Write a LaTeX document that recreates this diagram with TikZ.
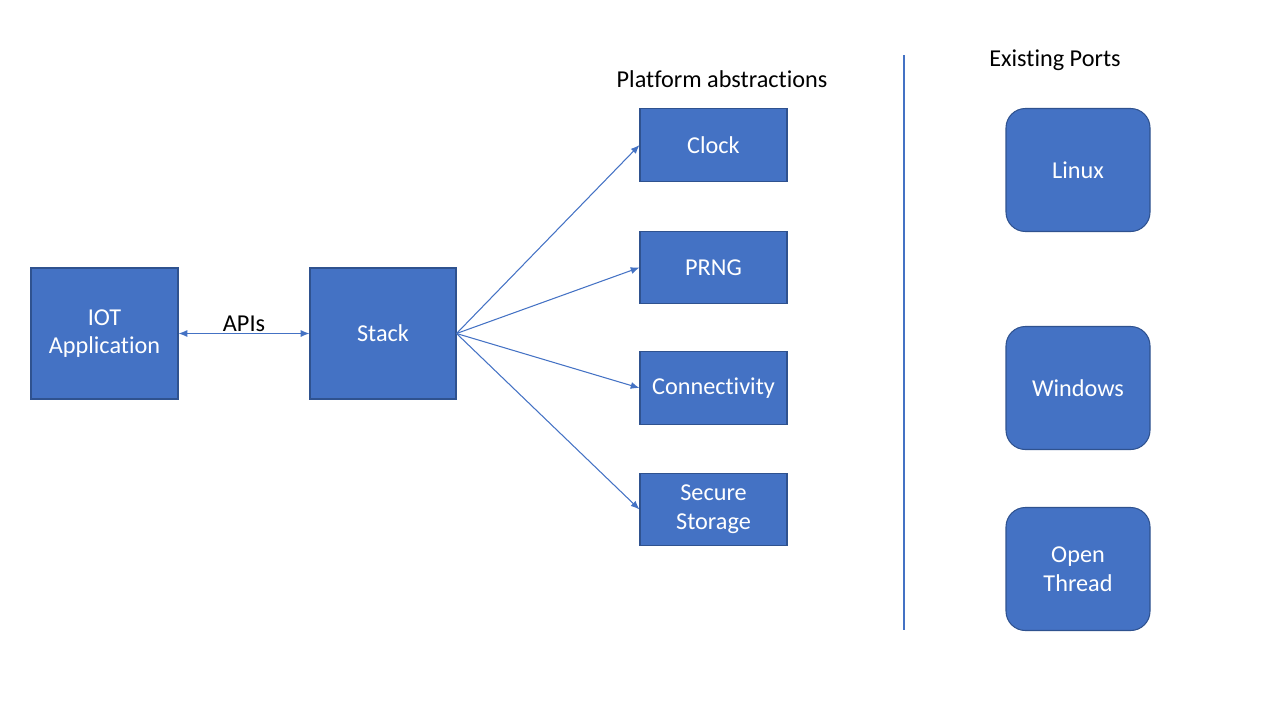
\documentclass[tikz,border=0pt]{standalone}
\usepackage{fontspec}
\setmainfont{Carlito}[Ligatures=NoCommon]
\usetikzlibrary{arrows.meta}

\definecolor{boxblue}{HTML}{4472C4}
\definecolor{boxedge}{HTML}{2F528F}

\newcommand{\labelfont}{\fontsize{13.8}{16.3}\selectfont}

\tikzset{
    block/.style={draw=boxedge, fill=boxblue, line width=0.6, text=white,
        align=center, font=\labelfont, inner sep=0pt},
    port/.style={block, rounded corners=11pt},
    link/.style={boxblue, line width=0.6, -{Latex[length=5pt,width=4pt]}}
}

\begin{document}
\begin{tikzpicture}[x=0.02cm, y=-0.02cm]

            \useasboundingbox (0,0) rectangle (1280,720);

            \node[block, minimum width=147*0.02cm, minimum height=131*0.02cm] (iot) at (104.5,333.5) {IOT\\Application};
            \node[block, minimum width=146*0.02cm, minimum height=131*0.02cm] (stack) at (383,333.5) {Stack};

            \node[block, minimum width=147*0.02cm, minimum height=73*0.02cm] (clock) at (713.5,145) {Clock};
            \node[block, minimum width=147*0.02cm, minimum height=72*0.02cm] (prng) at (713.5,267.5) {PRNG};
            \node[block, minimum width=147*0.02cm, minimum height=73*0.02cm] (conn) at (713.5,388) {Connectivity};
            \node[block, minimum width=147*0.02cm, minimum height=72*0.02cm] (store) at (713.5,509.5) {Secure\\Storage};

            \node[port, minimum width=144*0.02cm, minimum height=123*0.02cm] (linux) at (1078,170) {Linux};
            \node[port, minimum width=144*0.02cm, minimum height=123*0.02cm] (windows) at (1078,388) {Windows};
            \node[port, minimum width=144*0.02cm, minimum height=123*0.02cm] (thread) at (1078,569) {Open\\Thread};

            \node[font=\labelfont] (platform) at (722,79) {Platform abstractions};
            \node[font=\labelfont] (existing) at (1055,60) {Existing Ports};

            \coordinate (top) at (904,55);
            \coordinate (bottom) at (904,630);
            \draw[boxblue, line width=0.6] (top) -- (bottom);

            \draw[link, {Latex[length=5pt,width=4pt]}-{Latex[length=5pt,width=4pt]}] (iot.east) -- node[above=-2.5pt, font=\labelfont, text=black] {APIs} (stack.west);

            \draw[link] (stack.east) -- (clock.west);
            \draw[link] (stack.east) -- (prng.west);
            \draw[link] (stack.east) -- (conn.west);
            \draw[link] (stack.east) -- (store.west);

        \end{tikzpicture}
\end{document}
